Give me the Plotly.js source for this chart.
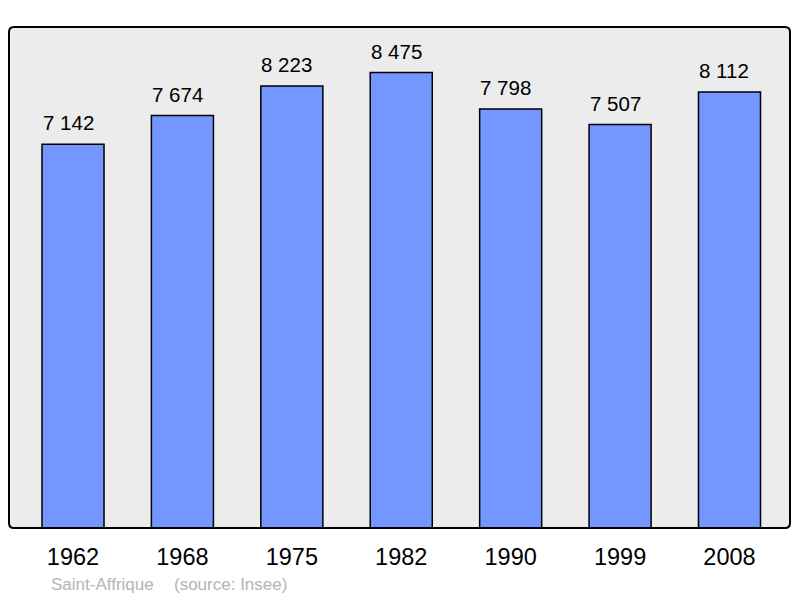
<!DOCTYPE html>
<html>
<head>
<meta charset="utf-8">
<script src="https://cdn.plot.ly/plotly-3.0.1.min.js"></script>
<style>html,body{margin:0;padding:0;background:#fff;}#chart{width:800px;height:598px;}</style>
</head>
<body>
<div id="chart"></div>
<script>
const years = ["1962", "1968", "1975", "1982", "1990", "1999", "2008"];
const population = [7142, 7674, 8223, 8475, 7798, 7507, 8112];
const placeName = "Saint-Affrique";
const sourceText = "(source: Insee)";

function fmt(v) {
  return String(v).replace(/\B(?=(\d{3})+(?!\d))/g, " ");
}

const W = 800, H = 598;
const margin = {l: 9, r: 10, t: 27, b: 70};
const pw = W - margin.l - margin.r, ph = H - margin.t - margin.b;
const rad = 5;
const rx = rad / pw, ry = rad / ph;
const borderPath = `M ${rx} 0 L ${1 - rx} 0 Q 1 0 1 ${ry} L 1 ${1 - ry} Q 1 1 ${1 - rx} 1 L ${rx} 1 Q 0 1 0 ${1 - ry} L 0 ${ry} Q 0 0 ${rx} 0 Z`;
const FONT = 'Liberation Sans, Arial, sans-serif';

const annotations = years.map((y, i) => ({
  x: i, y: population[i], xref: 'x', yref: 'y',
  text: fmt(population[i]), showarrow: false,
  xanchor: 'center', yanchor: 'bottom', yshift: 8, xshift: -5,
  font: {family: FONT, size: 20.5, color: '#000'}
}));
const srcY = -(584 - margin.t - ph) / ph;
annotations.push({
  xref: 'paper', yref: 'paper', x: (49 - margin.l) / pw, y: srcY,
  xanchor: 'left', yanchor: 'middle', showarrow: false,
  text: placeName,
  font: {family: FONT, size: 17, color: '#b4b4b4'}
});
annotations.push({
  xref: 'paper', yref: 'paper', x: (172 - margin.l) / pw, y: srcY,
  xanchor: 'left', yanchor: 'middle', showarrow: false,
  text: sourceText,
  font: {family: FONT, size: 17, color: '#b4b4b4'}
});

const trace = {
  type: 'bar', x: years, y: population,
  width: 0.567,
  marker: {color: '#7396ff', line: {color: '#000', width: 1.5}},
  hoverinfo: 'none'
};

const layout = {
  width: W, height: H, margin: margin,
  paper_bgcolor: '#ffffff', plot_bgcolor: '#ececec',
  showlegend: false,
  font: {family: FONT, color: '#000'},
  xaxis: {
    type: 'category', range: [-0.585, 6.553], fixedrange: true,
    showgrid: false, zeroline: false, showline: false, ticks: '',
    tickfont: {size: 23.5, color: '#000'}, ticklabelstandoff: 12
  },
  yaxis: {
    range: [0, 9322.5], showgrid: false, zeroline: false, showline: false,
    showticklabels: false, ticks: '', fixedrange: true
  },
  shapes: [{
    type: 'path', xref: 'paper', yref: 'paper', path: borderPath,
    line: {color: '#000', width: 2}, fillcolor: 'rgba(0,0,0,0)', layer: 'above'
  }],
  annotations: annotations
};

Plotly.newPlot('chart', [trace], layout, {displayModeBar: false, staticPlot: true});
</script>
</body>
</html>
